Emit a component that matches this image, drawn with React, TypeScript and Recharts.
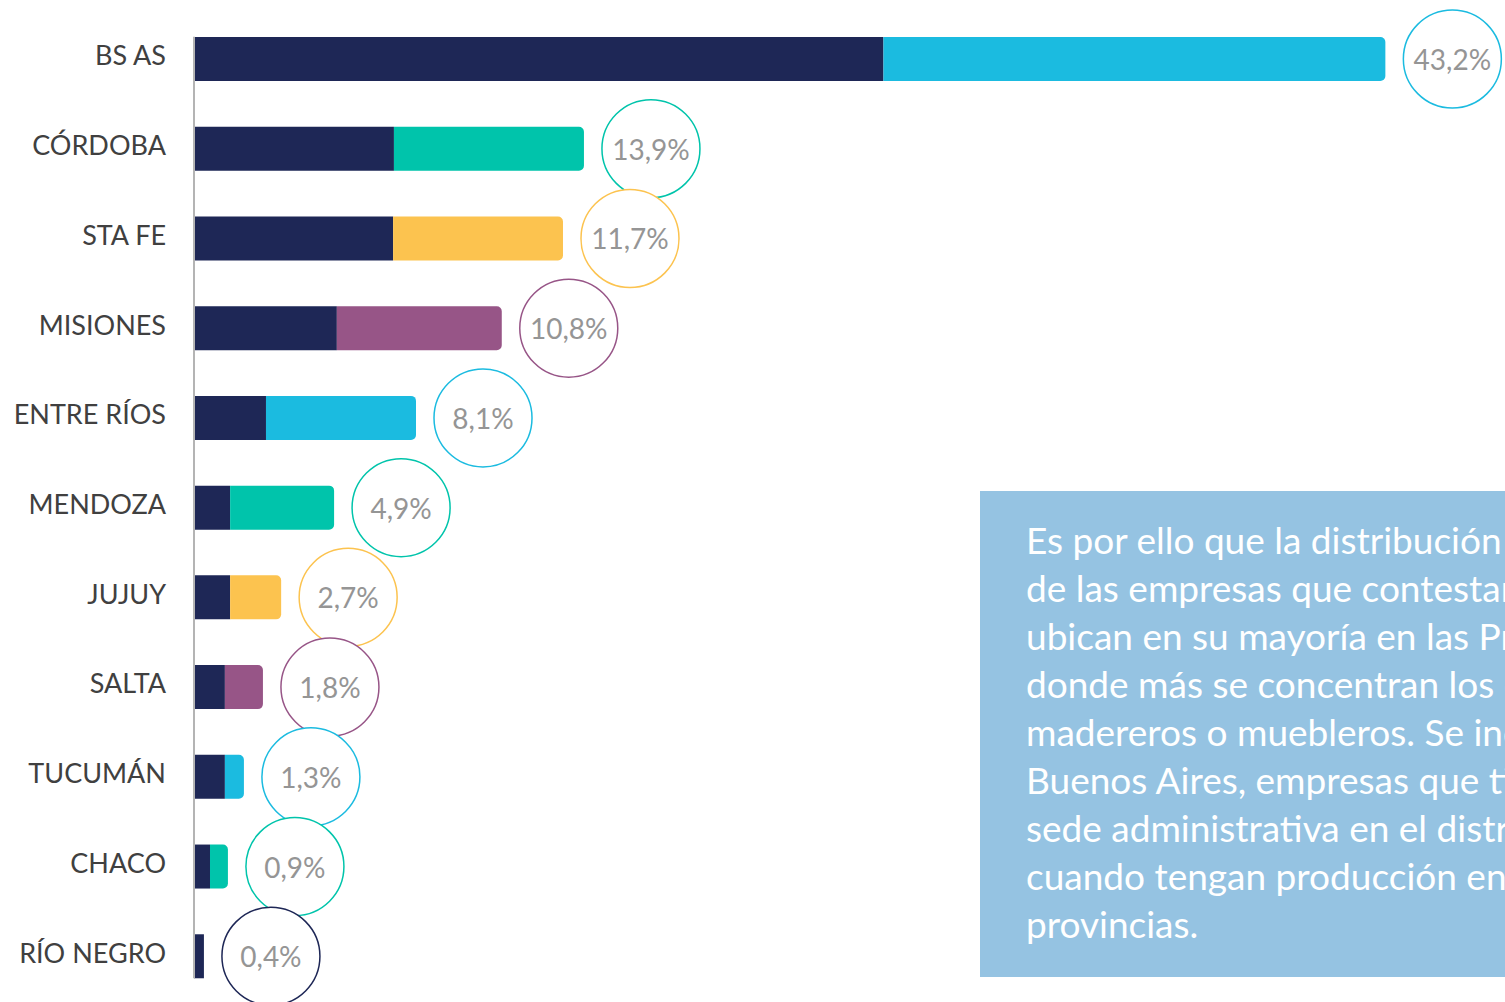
import React from "react";
import { BarChart, Bar, XAxis, YAxis, Cell, LabelList, ReferenceLine } from "recharts";

// provincias (de arriba hacia abajo)
const provincias = [
  "BS AS",
  "CÓRDOBA",
  "STA FE",
  "MISIONES",
  "ENTRE RÍOS",
  "MENDOZA",
  "JUJUY",
  "SALTA",
  "TUCUMÁN",
  "CHACO",
  "RÍO NEGRO",
];

// tramo oscuro y tramo de color
const tramoOscuro = [25.0, 7.25, 7.22, 5.18, 2.61, 1.31, 1.31, 1.12, 1.12, 0.58, 0.36];
const tramoColor = [18.2, 6.89, 6.16, 5.98, 5.44, 3.77, 1.85, 1.38, 0.69, 0.65, 0];

// porcentaje mostrado en el círculo
const etiquetas = ["43,2%", "13,9%", "11,7%", "10,8%", "8,1%", "4,9%", "2,7%", "1,8%", "1,3%", "0,9%", "0,4%"];

const AZUL_OSCURO = "#1E2756";
const coloresTramo = [
  "#1BBBE0",
  "#00C4AB",
  "#FCC34F",
  "#975587",
  "#1BBBE0",
  "#00C4AB",
  "#FCC34F",
  "#975587",
  "#1BBBE0",
  "#00C4AB",
  AZUL_OSCURO,
];

const parrafo = [
  "Es por ello que la distribución geográfica",
  "de las empresas que contestaron la encuesta se",
  "ubican en su mayoría en las Provincias",
  "donde más se concentran los establecimientos",
  "madereros o muebleros. Se incluye a",
  "Buenos Aires, empresas que tienen su",
  "sede administrativa en el distrito aun",
  "cuando tengan producción en otras",
  "provincias.",
];

const data = provincias.map((p, i) => ({
  provincia: p,
  oscuro: tramoOscuro[i],
  color: tramoColor[i],
}));

const FUENTE = "Lato, 'Open Sans', sans-serif";

function TickProvincia(props: any) {
  const { y, payload } = props;
  return (
    <text x={166} y={y} dy={-4} textAnchor="end" dominantBaseline="central" fill="#404040" fontSize={27} fontFamily={FUENTE}>
      {payload.value}
    </text>
  );
}

// el círculo va a la derecha del final de la barra completa (oscuro + color)
function Circulo(props: any) {
  const { x, y, width, height, index } = props;
  const d = data[index];
  const fin = Number(x) + (Number(width) * (d.oscuro + d.color)) / d.oscuro;
  const cx = fin + 67;
  const cy = Number(y) + Number(height) / 2;
  return (
    <g>
      <circle cx={cx} cy={cy} r={49} fill="#fff" stroke={coloresTramo[index]} strokeWidth={1.5} />
      <text x={cx} y={cy} textAnchor="middle" dominantBaseline="central" fill="#959595" fontSize={28} fontFamily={FUENTE}>
        {etiquetas[index]}
      </text>
    </g>
  );
}

// eje vertical: de borde superior de la primera barra al borde inferior de la última
function LineaEje(props: any) {
  const { x1, y1, x2, y2 } = props;
  return <line x1={x1} y1={y1 - 22} x2={x2} y2={y2 + 22} stroke="#B4B4B4" strokeWidth={2} />;
}

export default function App() {
  return (
    <div style={{ position: "absolute", left: 0, top: 0, width: 1505, height: 1002, overflow: "hidden", background: "#fff" }}>
      <BarChart
        width={1505}
        height={1002}
        data={data}
        layout="vertical"
        margin={{ top: 14, right: 70, bottom: 1, left: 0 }}
        barSize={44}
      >
        <XAxis type="number" domain={[0, 45]} hide />
        <YAxis type="category" dataKey="provincia" width={194} axisLine={false} tickLine={false} tick={<TickProvincia />} />
        <Bar dataKey="oscuro" stackId="a" fill={AZUL_OSCURO} isAnimationActive={false}>
          <LabelList dataKey="oscuro" content={<Circulo />} />
        </Bar>
        <Bar dataKey="color" stackId="a" radius={[0, 5, 5, 0]} isAnimationActive={false}>
          {data.map((d, i) => (
            <Cell key={d.provincia} fill={coloresTramo[i]} />
          ))}
        </Bar>
        <ReferenceLine
          segment={[
            { x: 0, y: provincias[0] },
            { x: 0, y: provincias[provincias.length - 1] },
          ]}
          shape={<LineaEje />}
        />
      </BarChart>
      <div
        style={{
          position: "absolute",
          left: 980,
          top: 491,
          width: 525,
          height: 486,
          background: "#95C3E2",
          overflow: "hidden",
          boxSizing: "border-box",
          paddingLeft: 46,
          paddingTop: 25,
          color: "#fff",
          fontFamily: FUENTE,
          fontSize: 37,
          lineHeight: "48px",
          whiteSpace: "nowrap",
        }}
      >
        {parrafo.map((l) => (
          <div key={l}>{l}</div>
        ))}
      </div>
    </div>
  );
}
